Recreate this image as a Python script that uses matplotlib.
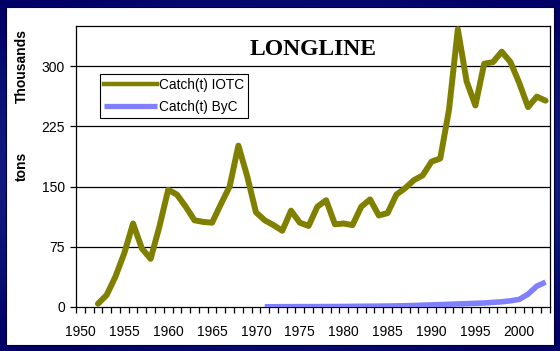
import numpy as np
import matplotlib
matplotlib.use("Agg")
import matplotlib.pyplot as plt
from matplotlib.patches import Rectangle
from matplotlib.lines import Line2D

plt.rcParams['font.family'] = ['Liberation Sans', 'DejaVu Sans']

# Longline catch, thousands of tons
years_iotc = list(range(1952, 2004))
catch_iotc = [4, 15, 38, 67, 104, 73, 60, 100, 146, 140,
              125, 108, 106, 105, 128, 150, 201, 163, 118, 108,
              102, 95, 120, 105, 101, 125, 133, 103, 104, 102,
              125, 134, 114, 117, 140, 148, 158, 164, 181, 185,
              246, 346, 281, 251, 303, 305, 318, 305, 279, 249,
              262, 257]

years_byc = list(range(1971, 2004))
catch_byc = [0.3, 0.3, 0.4, 0.4, 0.5, 0.5, 0.5, 0.6, 0.6, 0.7,
             0.8, 0.9, 1.0, 1.1, 1.2, 1.4, 1.6, 1.9, 2.3, 2.6,
             3.0, 3.4, 3.8, 4.2, 4.6, 5.0, 5.8, 6.5, 7.7, 9.5,
             16, 26, 31]

y_ticks = [0, 75, 150, 225, 300]
x_labels = list(range(1950, 2005, 5))

W, H = 560, 351
fig = plt.figure(figsize=(W / 100, H / 100), dpi=100)

# navy gradient backdrop
bg = fig.add_axes([0, 0, 1, 1], zorder=-10)
yy, xx = np.mgrid[0:1:200j, 0:1:300j]
d = np.sqrt(((xx - 0.5) * 1.0) ** 2 + ((yy - 0.5) * 1.4) ** 2)
t = np.clip(d / 0.8, 0, 1)
c0 = np.array([0.16, 0.27, 0.66])
c1 = np.array([0.0, 0.0, 0.40])
img = c0[None, None, :] * (1 - t[..., None]) + c1[None, None, :] * t[..., None]
bg.imshow(img, aspect='auto', extent=[0, 1, 0, 1])
bg.set_xlim(0, 1)
bg.set_ylim(0, 1)
bg.axis('off')

# white panel
px = lambda v: v / W
py = lambda v: 1 - v / H
fig.patches.append(Rectangle((px(6), py(345)), px(548), 338 / H,
                             transform=fig.transFigure, facecolor='white',
                             edgecolor='#000030', linewidth=0.8, zorder=-5))

ax = fig.add_axes([76 / W, 1 - 307 / H, 474 / W, 281 / H])
ax.set_xlim(1949.5, 2003.5)
ax.set_ylim(0, 350)

for v in y_ticks[1:]:
    ax.axhline(v, color='black', linewidth=0.9, zorder=1)

ax.plot(years_byc, catch_byc, color='#8080FF', linewidth=4.0,
        solid_capstyle='butt', solid_joinstyle='miter', zorder=3,
        label='Catch(t) ByC')
ax.plot(years_iotc, catch_iotc, color='#808000', linewidth=4.3,
        solid_capstyle='round', solid_joinstyle='round', zorder=4,
        label='Catch(t) IOTC')

ax.set_yticks(y_ticks)
ax.set_yticklabels([str(v) for v in y_ticks])
ax.tick_params(axis='y', direction='out', length=4, width=0.9, pad=4,
               labelsize=10, colors='black')

ax.set_xticks(x_labels)
ax.set_xticklabels([str(v) for v in x_labels])
ax.set_xticks(np.arange(1949.5, 2004, 1.0), minor=True)
ax.tick_params(axis='x', which='major', length=0, pad=13, labelsize=10)
ax.tick_params(axis='x', which='minor', direction='out', length=4, width=0.9)

for s in ax.spines.values():
    s.set_color('black')
    s.set_linewidth(0.9)

ax.text(0.5, 0.915, 'LONGLINE', transform=ax.transAxes, ha='center',
        va='center', fontsize=17, fontweight='bold',
        family=['Liberation Serif', 'DejaVu Serif'])

handles = [Line2D([], [], color='#808000', linewidth=3.2),
           Line2D([], [], color='#8080FF', linewidth=3.8, solid_capstyle='butt')]
leg = ax.legend(handles, ['Catch(t) IOTC', 'Catch(t) ByC'],
                loc='upper left', bbox_to_anchor=(100 / W, 1 - 74 / H),
                bbox_transform=fig.transFigure, borderaxespad=0,
                frameon=True, fancybox=False, framealpha=1,
                edgecolor='black', fontsize=9.8, handlelength=3.9,
                handletextpad=0.1, labelspacing=0.55, borderpad=0.3)
leg.get_frame().set_linewidth(0.8)

fig.text(22 / W, 1 - 66 / H, 'Thousands', rotation=90, ha='center',
         va='center', fontsize=10, fontweight='bold')
fig.text(22 / W, 1 - 166 / H, 'tons', rotation=90, ha='center',
         va='center', fontsize=10, fontweight='bold')

fig.savefig('out.png', dpi=100)
